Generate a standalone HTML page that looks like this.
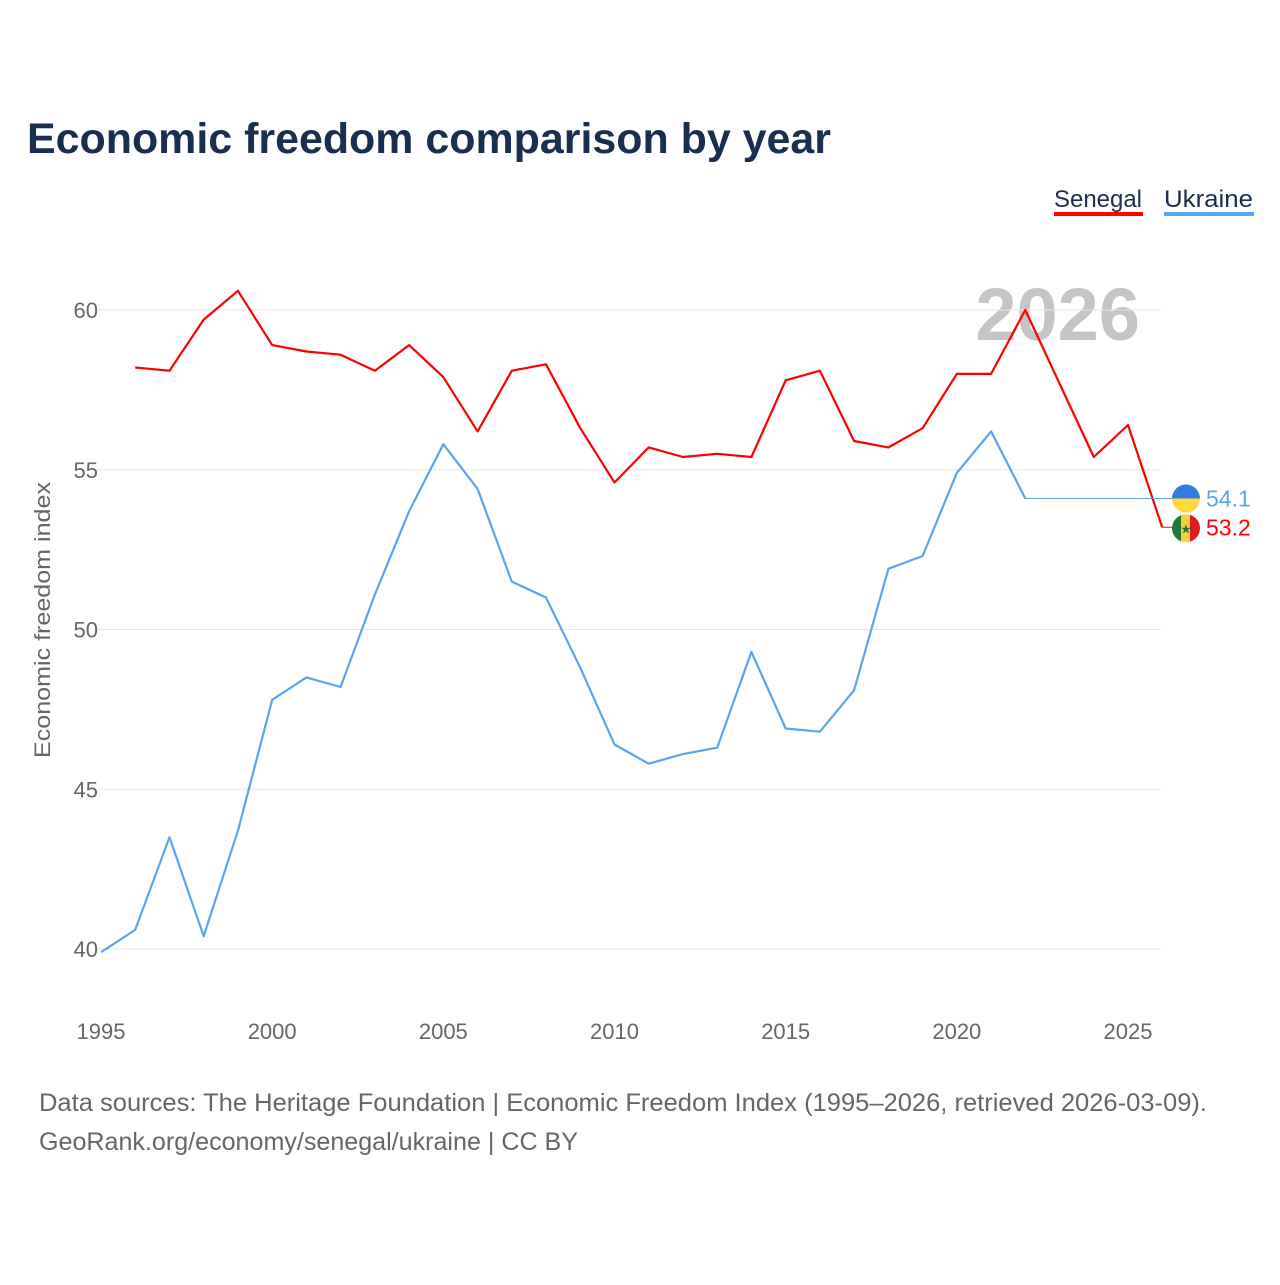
<!DOCTYPE html>
<html><head><meta charset="utf-8">
<style>
body{margin:0;background:#fff;font-family:"Liberation Sans",sans-serif;}
svg text{font-family:"Liberation Sans",sans-serif;}
</style></head>
<body>
<svg id="chart" width="1280" height="1280" viewBox="0 0 1280 1280">
<text x="27" y="153" font-size="43" font-weight="bold" fill="#1a2e4f" textLength="804" lengthAdjust="spacingAndGlyphs">Economic freedom comparison by year</text>
<g>
<text x="1054" y="207" font-size="24" fill="#1a2e4f" textLength="88" lengthAdjust="spacingAndGlyphs">Senegal</text>
<rect x="1054" y="212" width="89" height="4" fill="#ff0000"/>
<text x="1164" y="207" font-size="24" fill="#1a2e4f" textLength="89" lengthAdjust="spacingAndGlyphs">Ukraine</text>
<rect x="1164" y="212" width="90" height="4" fill="#5aa5ec"/>
</g>
<text x="1140" y="340" font-size="74" font-weight="bold" fill="#c4c4c4" text-anchor="end">2026</text>
<g id="grid"></g>
<g id="xaxis"></g>
<text transform="translate(50,620) rotate(-90)" font-size="22" fill="#666" text-anchor="middle" textLength="276" lengthAdjust="spacingAndGlyphs">Economic freedom index</text>
<g id="series"></g>
<g id="endlabels"></g>
<text x="39" y="1111" font-size="25" fill="#666" textLength="1168" lengthAdjust="spacingAndGlyphs">Data sources: The Heritage Foundation | Economic Freedom Index (1995–2026, retrieved 2026-03-09).</text>
<text x="39" y="1150" font-size="25" fill="#666" textLength="539" lengthAdjust="spacingAndGlyphs">GeoRank.org/economy/senegal/ukraine | CC BY</text>
</svg>
<script>
const yTicks=[40,45,50,55,60];
const xTicks=[1995,2000,2005,2010,2015,2020,2025];
const senegalYears=[1996,1997,1998,1999,2000,2001,2002,2003,2004,2005,2006,2007,2008,2009,2010,2011,2012,2013,2014,2015,2016,2017,2018,2019,2020,2021,2022,2023,2024,2025,2026];
const senegalValues=[58.2,58.1,59.7,60.6,58.9,58.7,58.6,58.1,58.9,57.9,56.2,58.1,58.3,56.3,54.6,55.7,55.4,55.5,55.4,57.8,58.1,55.9,55.7,56.3,58.0,58.0,60.0,57.7,55.4,56.4,53.2];
const ukraineYears=[1995,1996,1997,1998,1999,2000,2001,2002,2003,2004,2005,2006,2007,2008,2009,2010,2011,2012,2013,2014,2015,2016,2017,2018,2019,2020,2021,2022];
const ukraineValues=[39.9,40.6,43.5,40.4,43.7,47.8,48.5,48.2,51.1,53.7,55.8,54.4,51.5,51.0,48.8,46.4,45.8,46.1,46.3,49.3,46.9,46.8,48.1,51.9,52.3,54.9,56.2,54.1];

const NS="http://www.w3.org/2000/svg";
const xs=y=>101+(y-1995)*(1128-101)/30;
const ys=v=>949-(v-40)*(949-310)/20;
function mk(tag,attrs,parent){const e=document.createElementNS(NS,tag);for(const k in attrs)e.setAttribute(k,attrs[k]);parent.appendChild(e);return e;}
const grid=document.getElementById('grid');
yTicks.forEach(t=>{
  const l=mk('line',{x1:95,x2:1162,y1:ys(t),y2:ys(t),stroke:'#e6e6e6','stroke-width':1},grid);
  
  
  const tx=mk('text',{x:98,y:ys(t)+8,'font-size':22,fill:'#666','text-anchor':'end'},grid);
  tx.textContent=t;
  
  
});
const xa=document.getElementById('xaxis');
xTicks.forEach(t=>{
  const tx=mk('text',{x:xs(t),y:1039,'font-size':22,fill:'#666','text-anchor':'middle'},xa);
  tx.textContent=t;
  
  
});
const ser=document.getElementById('series');
function line(years,vals,color,name){
  const d=years.map((y,i)=>(i?'L':'M')+xs(y).toFixed(1)+','+ys(vals[i]).toFixed(1)).join('');
  const p=mk('path',{d:d,fill:'none',stroke:color,'stroke-width':2.2,'stroke-linejoin':'round'},ser);
  
  
}
line(ukraineYears,ukraineValues,'#5aa5ec','ukraine-line');
line(senegalYears,senegalValues,'#ff0000','senegal-line');
const uLast=ukraineValues[ukraineValues.length-1], sLast=senegalValues[senegalValues.length-1];
const ext=mk('line',{x1:xs(ukraineYears[ukraineYears.length-1]),x2:1172,y1:ys(uLast),y2:ys(uLast),stroke:'#5aa5ec','stroke-width':1},ser);


const sx=mk('line',{x1:xs(senegalYears[senegalYears.length-1]),x2:1172,y1:ys(sLast),y2:ys(sLast),stroke:'#ff0000','stroke-width':1},ser);



const el=document.getElementById('endlabels');
const uy=ys(uLast);
const uf=mk('g',{},el);


mk('path',{d:`M1172,${uy} a14,14 0 0 1 28,0 z`,fill:'#2f7de1'},uf);
mk('path',{d:`M1172,${uy} a14,14 0 0 0 28,0 z`,fill:'#ffd83d'},uf);
const ut=mk('text',{x:1206,y:uy+8,'font-size':23,fill:'#5aa5ec'},el);
ut.textContent=uLast.toFixed(1);


const sy=ys(sLast)+1;
const sf=mk('g',{},el);


mk('clipPath',{id:'sc'},sf);
mk('circle',{cx:1186,cy:sy,r:14},document.getElementById('sc'));
const sg=mk('g',{'clip-path':'url(#sc)'},sf);
mk('rect',{x:1172,y:sy-14,width:10,height:28,fill:'#1f7a3a'},sg);
mk('rect',{x:1181,y:sy-14,width:10,height:28,fill:'#f4d23b'},sg);
mk('rect',{x:1190,y:sy-14,width:10,height:28,fill:'#e21b23'},sg);
const star=mk('text',{x:1186,y:sy+5,'font-size':13,fill:'#1f7a3a','text-anchor':'middle'},sf);
star.textContent='★';
const st=mk('text',{x:1206,y:sy+7,'font-size':23,fill:'#ff0000'},el);
st.textContent=sLast.toFixed(1);


</script>
</body></html>
